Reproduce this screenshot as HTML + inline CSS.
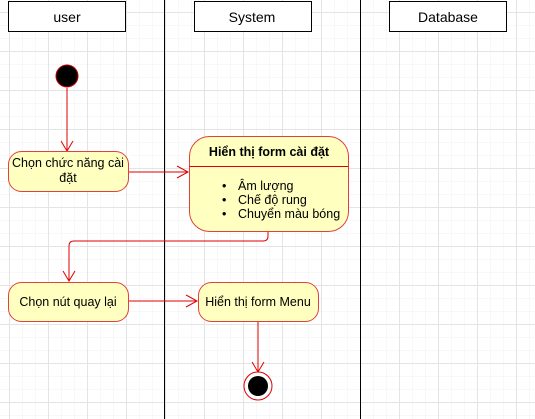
<!DOCTYPE html>
<html><head><meta charset="utf-8"><style>
html,body{margin:0;padding:0;background:#fff;}
svg{display:block;font-family:"Liberation Sans",sans-serif;}
</style></head><body>
<svg width="535" height="419" viewBox="0 0 535 419">
<defs>
<pattern id="g" width="13" height="13" patternUnits="userSpaceOnUse" x="9" y="12">
<path d="M0 0H13M0 0V13" stroke="#f0f0f0" stroke-width="1" fill="none"/>
</pattern>
<pattern id="G" width="39" height="39" patternUnits="userSpaceOnUse" x="9" y="12">
<path d="M0 0.5H39M0.5 0V39" stroke="#e4e4e4" stroke-width="1" fill="none"/>
</pattern>
</defs>
<rect width="535" height="419" fill="url(#g)"/>
<rect width="535" height="419" fill="url(#G)"/>
<line x1="164.5" y1="0" x2="164.5" y2="419" stroke="#000"/>
<line x1="360.5" y1="0" x2="360.5" y2="419" stroke="#000"/>
<g fill="#fff" stroke="#000">
<rect x="8.5" y="1.5" width="117" height="30"/>
<rect x="194.5" y="1.5" width="117" height="30"/>
<rect x="389.5" y="1.5" width="117" height="30"/>
</g>
<g font-size="14" text-anchor="middle" fill="#000">
<text x="67" y="22">user</text>
<text x="252" y="22">System</text>
<text x="448" y="22">Database</text>
</g>
<g stroke="#e00000" fill="none" stroke-width="1">
<line x1="67" y1="88" x2="67" y2="150"/>
<path d="M61 141 L67 151 L73 141"/>
<line x1="128" y1="172" x2="188" y2="172"/>
<path d="M177 166 L188 172 L177 178"/>
<path d="M268 232 V236 Q268 241 263 241 H74 Q69 241 69 246 V281"/>
<path d="M63 271 L69 281 L75 271"/>
<line x1="128" y1="301" x2="197" y2="301"/>
<path d="M186 295 L197 301 L186 307"/>
<line x1="258" y1="321" x2="258" y2="372"/>
<path d="M252 362 L258 372 L264 362"/>
</g>
<circle cx="67" cy="76" r="11" fill="#000" stroke="#c00000"/>
<circle cx="258" cy="386" r="14" fill="#fff" stroke="#e00000"/>
<circle cx="258" cy="386" r="10" fill="#000"/>
<g fill="#ffffc0" stroke="#e04040">
<rect x="8.5" y="151.5" width="120" height="40" rx="13"/>
<rect x="189.5" y="136.5" width="159" height="95" rx="20"/>
<rect x="8.5" y="282.5" width="120" height="39" rx="13"/>
<rect x="198.5" y="282.5" width="120" height="39" rx="13"/>
</g>
<line x1="189.5" y1="166.5" x2="348.5" y2="166.5" stroke="#e00000"/>
<g font-size="12.5" fill="#000">
<text x="68" y="167" text-anchor="middle">Chọn chức năng cài</text>
<text x="68" y="182" text-anchor="middle">đặt</text>
<text x="269" y="156" text-anchor="middle" font-weight="bold">Hiển thị form cài đặt</text>
<text x="222" y="190">•</text><text x="238" y="190">Âm lượng</text>
<text x="222" y="204">•</text><text x="238" y="204">Chế độ rung</text>
<text x="222" y="218">•</text><text x="238" y="218">Chuyển màu bóng</text>
<text x="68" y="306" text-anchor="middle">Chọn nút quay lại</text>
<text x="258" y="306" text-anchor="middle">Hiển thị form Menu</text>
</g>
</svg>
</body></html>
